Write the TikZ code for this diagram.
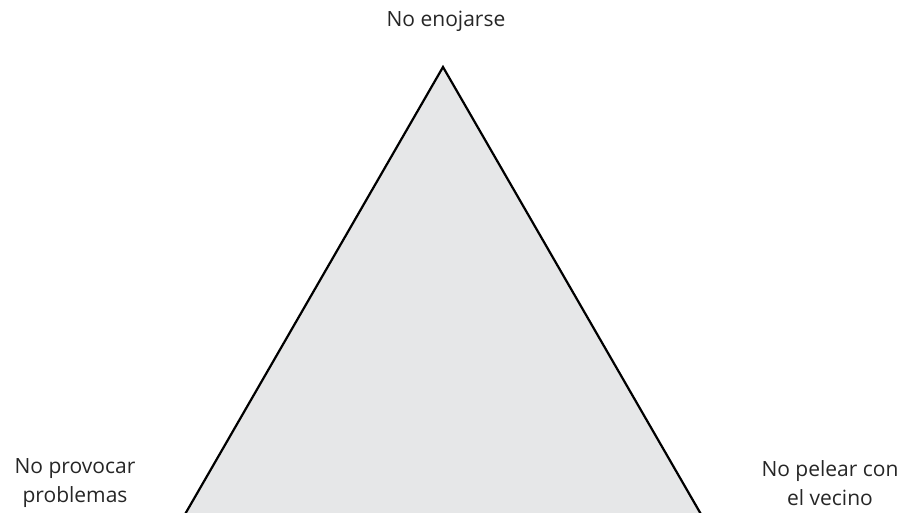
\documentclass[tikz,border=0pt]{standalone}
\usepackage{fontspec}
\setmainfont{Open Sans}
\begin{document}
\begin{tikzpicture}[x=1pt,y=-1pt,
  lbl/.style={font=\fontsize{21}{29}\selectfont, align=center, text=black!85, inner sep=0pt}]
\useasboundingbox (0,0) rectangle (909,513);
\clip (0,0) rectangle (909,513);
\coordinate (apex) at (443,67);
\coordinate (bl) at (184,516);
\coordinate (br) at (702,516);
\fill[fill={rgb,255:red,230;green,231;blue,232}] (apex) -- (bl) -- (br) -- cycle;
\draw[line width=2.2pt, line join=miter] (bl) -- (apex) -- (br);
\node[lbl] (top) at (446,21) {No enojarse};
\node[lbl] (left) at (75,483) {No provocar\\problemas};
\node[lbl] (right) at (830,483) {No pelear con\\el vecino};
\end{tikzpicture}
\end{document}
